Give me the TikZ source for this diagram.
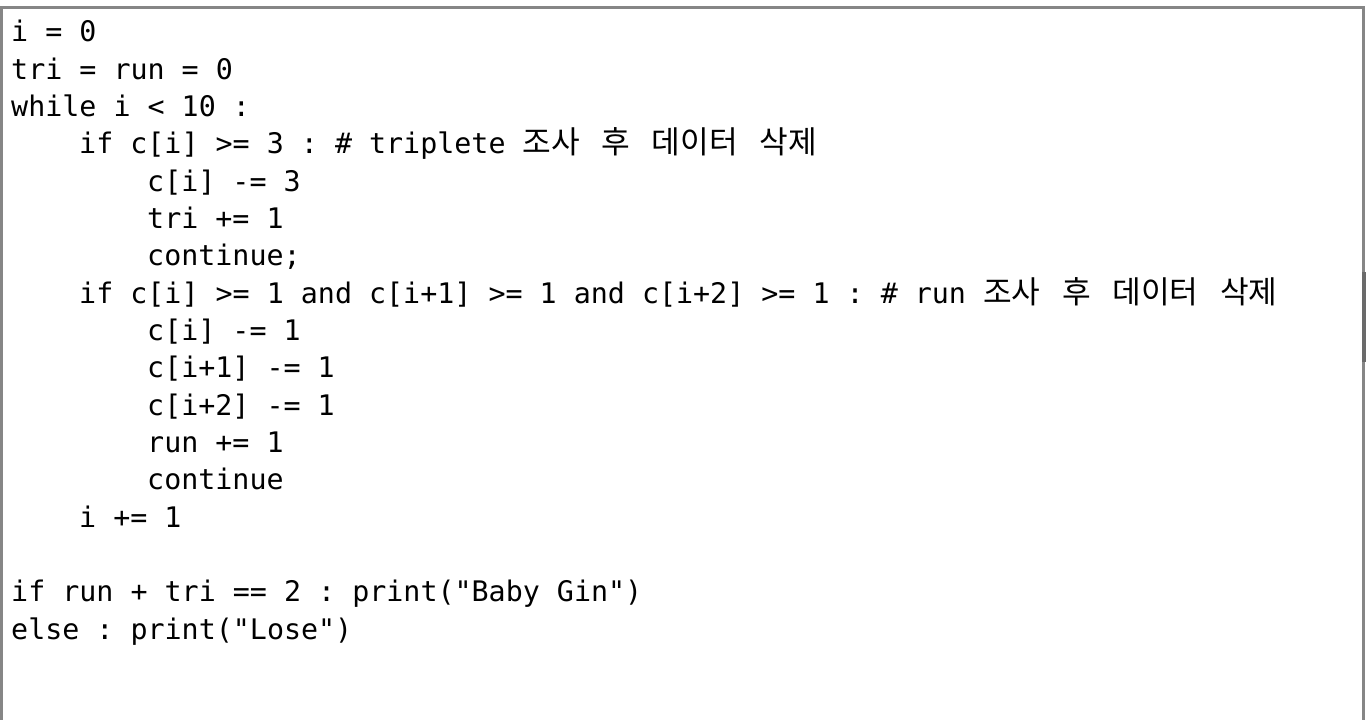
\documentclass[tikz,border=0pt]{standalone}
\usepackage{fontspec}
\usepackage{tikz}
\setmonofont{DejaVu Sans Mono}
\newfontfamily\kor{Noto Sans CJK KR}[Scale=1.1, WordSpace=3.1]
\newcommand{\codefont}{\ttfamily\fontsize{28.33pt}{37.33pt}\selectfont}
\definecolor{framegray}{HTML}{868686}
\definecolor{bargray}{HTML}{6A6A6A}
\tikzset{
    code-line/.style = {anchor=base west, inner sep=0pt, font=\codefont, text=black},
    frame-line/.style = {draw=framegray, line width=3pt},
}

\begin{document}
\begin{tikzpicture}[x=1pt,y=1pt]
\useasboundingbox (0,0) rectangle (1366,-720);
\draw[frame-line] (1.5,-720) -- (1.5,-7.5) -- (1363.5,-7.5) -- (1363.5,-720);
\fill[bargray] (1362,-272) rectangle (1365.5,-362);

\node[code-line] (line1) at (11,-41.7) {i = 0};
\node[code-line] (line2) at (11,-79.0) {tri = run = 0};
\node[code-line] (line3) at (11,-116.4) {while i < 10 :};
\node[code-line] (line4) at (79,-153.7) {if c[i] >= 3 : \# triplete {\kor 조사 후 데이터 삭제}};
\node[code-line] (line5) at (147,-191.0) {c[i] -= 3};
\node[code-line] (line6) at (147,-228.4) {tri += 1};
\node[code-line] (line7) at (147,-265.7) {continue;};
\node[code-line] (line8) at (79,-303.0) {if c[i] >= 1 and c[i+1] >= 1 and c[i+2] >= 1 : \# run {\kor 조사 후 데이터 삭제}};
\node[code-line] (line9) at (147,-340.3) {c[i] -= 1};
\node[code-line] (line10) at (147,-377.7) {c[i+1] -= 1};
\node[code-line] (line11) at (147,-415.0) {c[i+2] -= 1};
\node[code-line] (line12) at (147,-452.3) {run += 1};
\node[code-line] (line13) at (147,-489.7) {continue};
\node[code-line] (line14) at (79,-527.0) {i += 1};
\node[code-line] (line16) at (11,-601.7) {if run + tri == 2 : print("Baby Gin")};
\node[code-line] (line17) at (11,-639.0) {else : print("Lose")};
\end{tikzpicture}
\end{document}
